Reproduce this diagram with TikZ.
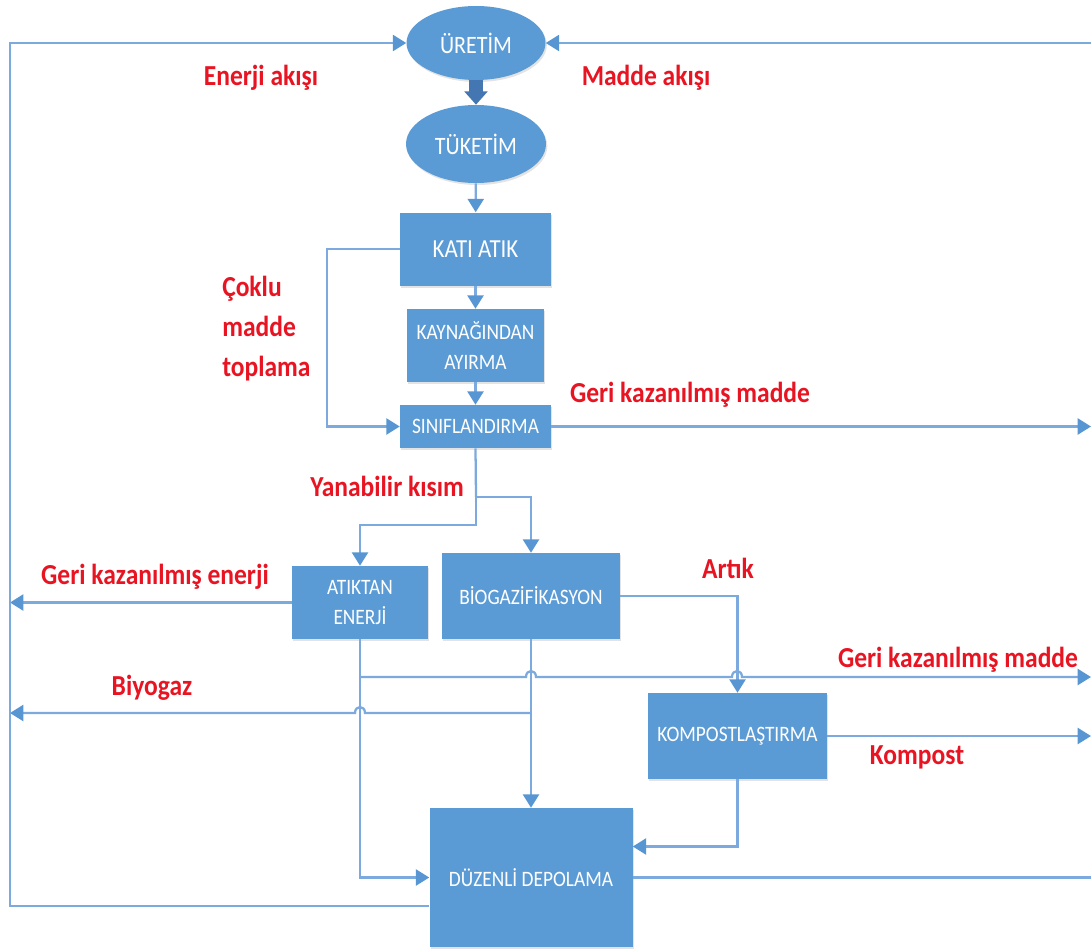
\documentclass[tikz,border=0pt]{standalone}
\usepackage{fontspec}
\setmainfont{Carlito}[FakeStretch=0.88]
\usetikzlibrary{arrows.meta,shapes.geometric,shadows,calc}
\definecolor{boxblue}{RGB}{91,155,213}
\definecolor{lineblue}{RGB}{125,170,222}
\definecolor{tipblue}{RGB}{88,150,211}
\definecolor{fatblue}{RGB}{68,118,178}
\definecolor{lblred}{RGB}{232,20,34}

\begin{document}
\begin{tikzpicture}[x=0.75pt,y=-0.75pt,
  stage/.style={fill=boxblue, text=white, inner sep=0pt, align=center,
    drop shadow={shadow xshift=1pt, shadow yshift=-1.5pt, opacity=0.22}},
  box/.style 2 args={stage, rectangle, minimum width=#1*0.75pt, minimum height=#2*0.75pt},
  oval/.style 2 args={stage, ellipse, minimum width=#1*0.75pt, minimum height=#2*0.75pt,
    font=\fontsize{18.75}{20}\selectfont},
  boxtext/.style={font=\fontsize{16.5}{22.2}\selectfont},
  conn/.style={draw=lineblue, line width=1.7pt},
  arr/.style={conn, -{Triangle[length=10pt,width=12pt,color=tipblue]}},
  fatarrow/.style={draw=fatblue, line width=11pt, -{Triangle[length=10pt,width=17pt]}},
  lbl/.style={text=lblred, inner sep=0pt, font=\bfseries\fontsize{21.75}{30}\selectfont}
]
\useasboundingbox (0,0) rectangle (1091,949);

% stages of the flow
\node[oval={139}{74}] (uretim) at (476,43) {ÜRETİM};
\node[oval={140}{78}] (tuketim) at (476,144) {TÜKETİM};
\node[box={151}{73}, font=\fontsize{19.5}{22}\selectfont] (kati) at (475.5,249) {KATI ATIK};
\node[box={137}{73}, boxtext] (kayn) at (475.5,345.5) {KAYNAĞINDAN\\AYIRMA};
\node[box={151}{43}, boxtext] (sinif) at (475.5,426.5) {SINIFLANDIRMA};
\node[box={136}{73}, boxtext] (atiktan) at (360,602.5) {ATIKTAN\\ENERJİ};
\node[box={178}{86}, boxtext] (biogaz) at (531,596) {BİOGAZİFİKASYON};
\node[box={179}{86}, boxtext] (kompost) at (737.5,736) {KOMPOSTLAŞTIRMA};
\node[box={203}{139}, boxtext] (duzenli) at (531,877.5) {DÜZENLİ DEPOLAMA};

% helper points on the frame and branch points
\coordinate (spineT) at (10,43);
\coordinate (spineB) at (10,906);
\coordinate (inR) at (1091,43);
\coordinate (loopL) at (327,249);
\coordinate (split) at (476,497);
\coordinate (atkbend) at (360,525);
\coordinate (recov) at (360,677);
\coordinate (gas) at (531,713);

% main chain
\draw[fatarrow] (uretim) -- (tuketim);
\draw[arr] (tuketim) -- (kati);
\draw[arr] (kati) -- (kayn);
\draw[arr] (kayn) -- (sinif);
\draw[arr] (kati.west) -- (loopL) |- (sinif.west);
\draw[arr] (sinif.east) -- (1091,426.5);
\draw[conn] (sinif.south) -- (split);
\draw[arr] (split) -| (biogaz.north);
\draw[arr] (split) |- (atkbend) -- (atiktan.north);

% energy recovery and landfill
\draw[arr] (atiktan.west) -- (atiktan.west -| spineB);
\draw[arr] (atiktan.south) |- (duzenli.west);
\draw[arr] (recov) -- (526,677) .. controls (526,669) and (536,669) .. (536,677)
  -- (732,677) .. controls (732,669) and (742,669) .. (742,677) -- (1091,677);
\draw[arr] (biogaz.east) -| (kompost.north);
\draw[arr] (biogaz.south) -- (duzenli.north);
\draw[arr] (gas) -- (365,713) .. controls (365,705) and (355,705) .. (355,713)
  -- (10,713);
\draw[arr] (kompost.east) -- (1091,736);
\draw[arr] (kompost.south) |- ($(duzenli.east)+(0,-31)$);
\draw[conn] (duzenli.east) -- (1091,877.5);

% outer loop back to production
\draw[arr] ($(duzenli.west)+(0,28.5)$) -- (spineB) -- (spineT) -- (uretim.west);
\draw[arr] (inR) -- (uretim.east);

% flow labels
\node[lbl] (enerjiakis) at (261,78) {Enerji akışı};
\node[lbl] (maddeakis) at (646,78) {Madde akışı};
\node[lbl, align=left, anchor=west] (coklu) at (222,329) {Çoklu\\madde\\toplama};
\node[lbl] (gkm1) at (690,395) {Geri kazanılmış madde};
\node[lbl] (yanabilir) at (387,486) {Yanabilir kısım};
\node[lbl] (gke) at (155,577) {Geri kazanılmış enerji};
\node[lbl] (artik) at (728,568) {Artık};
\node[lbl] (gkm2) at (958,660) {Geri kazanılmış madde};
\node[lbl] (biyogaz) at (152,688) {Biyogaz};
\node[lbl] (kompostl) at (917,757) {Kompost};
\end{tikzpicture}
\end{document}
